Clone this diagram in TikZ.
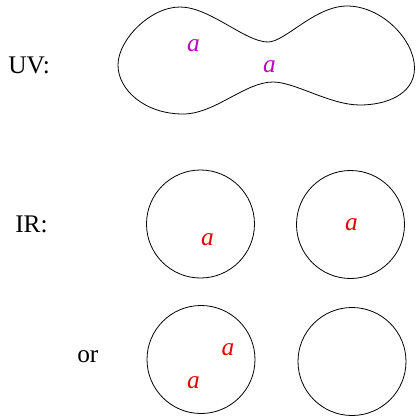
\documentclass[tikz,border=0pt]{standalone}
\usepackage{fontspec}
\setmainfont{Liberation Serif}
\definecolor{uvmag}{RGB}{190,0,190}
\definecolor{irred}{RGB}{230,0,0}
\begin{document}
\begin{tikzpicture}[x=0.75pt,y=-0.75pt,
  lbl/.style={inner sep=0pt,anchor=base west,font=\fontsize{19}{22}\selectfont},
  ua/.style={inner sep=0pt,text=uvmag,font=\fontsize{19}{22}\selectfont\itshape},
  ra/.style={inner sep=0pt,text=irred,font=\fontsize{19}{22}\selectfont\itshape},
  ball/.style={draw,circle,line width=0.6pt,minimum size=81pt,inner sep=0pt}]
\useasboundingbox (0,0) rectangle (416,419);
% UV blob
\draw[line width=0.6pt] (118,65)
  .. controls (118,40) and (150,7) .. (180,7)
  .. controls (210,7) and (245,42) .. (268,42)
  .. controls (285,42) and (315,6) .. (347,6)
  .. controls (382,6) and (414.5,40) .. (414.5,68)
  .. controls (414.5,95) and (385,105) .. (360,105)
  .. controls (330,105) and (295,82) .. (273,82)
  .. controls (245,82) and (215,114) .. (183,114)
  .. controls (145,114) and (118,90) .. (118,65) -- cycle;
\node[ua] (u1) at (193.5,45.5) {a};
\node[ua] (u2) at (269.5,67) {a};
\node[lbl] (uv) at (8,73) {UV:};
% IR
\node[lbl] (ir) at (15,232) {IR:};
\node[ball] (c1) at (200.5,224) {};
\node[ball] (c2) at (350.5,224.5) {};
\node[ra] (a1) at (207.5,239.5) {a};
\node[ra] (a2) at (351.5,225) {a};
% or
\node[lbl] (or) at (77,362) {or};
\node[ball] (c3) at (201,359.5) {};
\node[ball] (c4) at (352,361.5) {};
\node[ra] (a3) at (228,349.5) {a};
\node[ra] (a4) at (193.5,382.5) {a};
\end{tikzpicture}
\end{document}
